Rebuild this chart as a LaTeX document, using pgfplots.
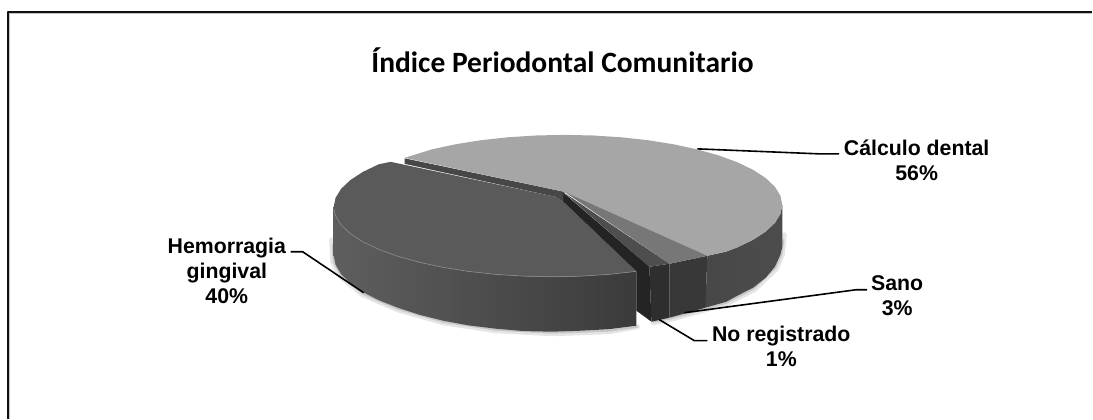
\documentclass[border=0pt]{standalone}
\usepackage{pgfplots}
\pgfplotsset{compat=1.18}
\usepackage{fontspec}
\setmainfont{Liberation Sans}
\newfontfamily\titlefont{Carlito}
\definecolor{frameblack}{HTML}{111111}
\definecolor{lighttop}{HTML}{A6A6A6}
\definecolor{sanotop}{HTML}{777777}
\definecolor{regtop}{HTML}{4E4E4E}
\definecolor{hemotop}{HTML}{5A5A5A}
\definecolor{cutface}{HTML}{242424}
\tikzset{
  lbl/.style={font=\bfseries\fontsize{21.3}{25}\selectfont, align=center, text=black, inner sep=0pt},
  leader/.style={black, line width=1.6pt},
}
\begin{document}
\begin{tikzpicture}
\begin{axis}[
  scale only axis, width=1093pt, height=419pt,
  xmin=0, xmax=1093, ymin=0, ymax=419, y dir=reverse,
  hide axis, clip=false,
  every axis plot/.append style={no markers, line join=round},
]
% page extent
\addplot[draw=none] coordinates {(0,0) (1093,419)};
% frame: left and top edges
\addplot[gray!45, line width=1pt] coordinates {(9.5,419) (9.5,13.5) (1093,13.5)};
\addplot[frameblack, line width=2pt] coordinates {(8,419) (8,12) (1093,12)};

% soft shadow below the lower rim
\addplot[black!10, line width=5pt, line cap=round] coordinates {(332,240) (333,262) (340,276) (363,295) (398,310) (443.5,323) (496,331) (553,334) (610,332) (638,327)};
\addplot[black!10, line width=5pt, line cap=round] coordinates {(785,235) (783,255) (777,269) (755,290) (727,304) (706,310) (670,320) (654,323)};
\addplot[black!22, line width=2pt, line cap=round] coordinates {(333,245) (334,262) (341,275) (363,294) (398,309) (443.5,322) (496,330) (553,333) (610,331) (638,327)};
\addplot[black!22, line width=2pt, line cap=round] coordinates {(784,240) (782,255) (776,268) (754,289) (727,303) (706,309) (670,319) (654,322)};

% Hemorragia gingival: rim
\addplot[draw=none, left color=black!63, right color=black!77] coordinates {
 (334,207) (335.9,216.1) (341.5,225.1) (350.7,233.8) (363.3,242) (379.2,249.6) (398.1,256.5) (419.7,262.5) (443.5,267.6) (469.2,271.7) (496.3,274.6) (524.4,276.4) (553,277) (581.6,276.4) (609.7,274.6) (637,271.6)
 (637,326) (609.7,329.5) (581.6,331) (553,332) (524.4,331.4) (496.3,329) (469.2,325.7) (443.5,321) (419.7,315) (398.1,308) (379.2,300.5) (363.3,292.5) (350.7,283.5) (341.5,274.5) (335.9,265) (334,256)} -- cycle;
% Hemorragia gingival: top
\addplot[draw=none, fill=hemotop] coordinates {
 (556,197) (391,162) (379.2,164.4) (363.3,172) (350.7,180.2) (341.5,188.9) (335.9,197.9) (334,207) (335.9,216.1) (341.5,225.1) (350.7,233.8) (363.3,242) (379.2,249.6) (398.1,256.5) (419.7,262.5) (443.5,267.6) (469.2,271.7) (496.3,274.6) (524.4,276.4) (553,277) (581.6,276.4) (609.7,274.6) (637,271.6) (564,202)} -- cycle;
\addplot[black!48, line width=0.7pt] coordinates {
 (334,209) (335.9,216.1) (341.5,225.1) (350.7,233.8) (363.3,242) (379.2,249.6) (398.1,256.5) (419.7,262.5) (443.5,267.6) (469.2,271.7) (496.3,274.6) (524.4,276.4) (553,277) (581.6,276.4) (609.7,274.6) (637,271.6)};

% Calculo dental: rim
\addplot[draw=none, left color=black!72, right color=black!70] coordinates {
 (708,256) (727,251.8) (738,247.6) (753.8,240) (766.4,231.8) (775.6,223.1) (781.1,214.1) (783,205) (783,247) (781.1,255) (775.6,267) (766.4,278) (753.8,288) (738,296) (727,302) (706,308)} -- cycle;
% Cut face behind the Hemorragia wedge
\addplot[draw=none, fill=black!72] coordinates {(405,158.5) (565,192) (565,202) (564,202) (556,197) (405,164)} -- cycle;
% Calculo dental: top
\addplot[draw=none, fill=lighttop] coordinates {
 (565,192) (405,158) (432.3,149.5) (456,144.4) (481.6,140.3) (508.5,137.4) (536.6,135.6) (565,135) (593.4,135.6) (621.5,137.4) (648.4,140.3) (674,144.4) (697.7,149.5) (719.1,155.5) (738,162.4) (753.8,170) (766.4,178.2) (775.6,186.9) (781.1,195.9) (783,205)
 (781.1,214.1) (775.6,223.1) (766.4,231.8) (753.8,240) (738,247.6) (727,251.8) (708,256)} -- cycle;

% Sano
\addplot[draw=none, fill=black!78] coordinates {(670,264) (708,256) (706,308) (670,318)} -- cycle;
\addplot[draw=none, fill=sanotop] coordinates {(565,192) (708,256) (670,264)} -- cycle;
% No registrado
\addplot[draw=none, fill=black!82] coordinates {(650,267) (670,264) (670,318) (652,322)} -- cycle;
\addplot[draw=none, fill=regtop] coordinates {(564,192.5) (670,264) (650,267)} -- cycle;
\addplot[draw=none, fill=cutface] coordinates {(564,193) (650,267) (652,322) (637,311) (637,271.6) (564,202)} -- cycle;

% leader lines
\addplot[leader] coordinates {(698,149) (820,154) (840,154)};
\addplot[leader] coordinates {(685,313) (857,290) (868,290)};
\addplot[leader] coordinates {(660,320) (695,341) (708,341)};
\addplot[leader] coordinates {(364,293) (303,252) (291,252)};

% text
\node[font=\titlefont\bfseries\fontsize{29.5}{32}\selectfont, anchor=center] at (axis cs:563,60) {Índice Periodontal Comunitario};
\node[lbl] at (axis cs:917.5,160) {Cálculo dental\\56\%};
\node[lbl] at (axis cs:898,295.5) {Sano\\3\%};
\node[lbl] at (axis cs:782,347) {No registrado\\1\%};
\node[lbl] at (axis cs:227,271) {Hemorragia\\gingival\\40\%};
\end{axis}
\end{tikzpicture}
\end{document}
